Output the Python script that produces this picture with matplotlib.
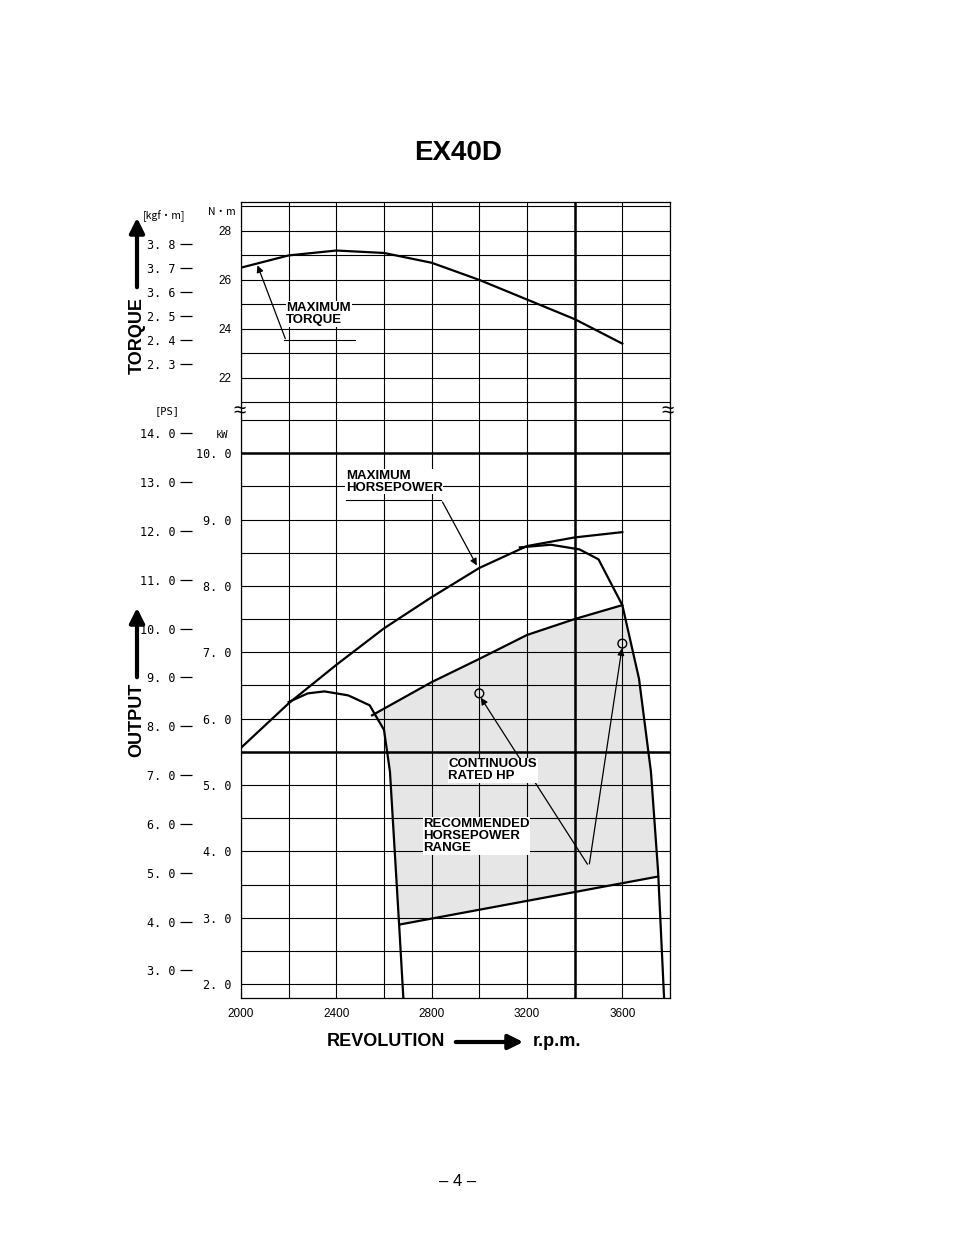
import numpy as np
import matplotlib.pyplot as plt
from matplotlib.patches import Polygon

# ---- data (rpm, N·m, kW) ----
rpm_torque = [2000, 2200, 2400, 2600, 2800, 3000, 3200, 3400, 3600]
max_torque = [26.5, 27.0, 27.2, 27.1, 26.7, 26.0, 25.2, 24.4, 23.4]

rpm_hp = [2000, 2200, 2400, 2600, 2800, 3000, 3200, 3400, 3600]
max_hp = [5.56, 6.23, 6.81, 7.36, 7.83, 8.27, 8.60, 8.73, 8.81]

rpm_left_bell = [2200, 2280, 2350, 2450, 2540, 2600, 2625, 2645, 2665, 2681]
kw_left_bell = [6.25, 6.38, 6.41, 6.35, 6.2, 5.83, 5.2, 4.0, 2.8, 1.8]

rpm_right_bell = [3170, 3300, 3420, 3500, 3600, 3670, 3720, 3750, 3775]
kw_right_bell = [8.58, 8.62, 8.55, 8.4, 7.71, 6.6, 5.2, 3.7, 1.8]

rpm_range_top = [2550, 2800, 3000, 3200, 3400, 3600]
kw_range_top = [6.05, 6.55, 6.9, 7.26, 7.5, 7.71]
rpm_range_right = [3670, 3720, 3750]
kw_range_right = [6.6, 5.2, 3.62]
rpm_range_bottom = [2670, 3750]
kw_range_bottom = [2.9, 3.62]
rpm_range_left = [2645, 2625, 2600]
kw_range_left = [4.0, 5.2, 5.83]

rated_rpm = [3000, 3600]
rated_kw = [6.38, 7.13]

x_ticks = [2000, 2400, 2800, 3200, 3600]
nm_ticks = [22, 24, 26, 28]
kw_ticks = [2.0, 3.0, 4.0, 5.0, 6.0, 7.0, 8.0, 9.0, 10.0]
kgf_ticks = [2.3, 2.4, 2.5, 2.6, 2.7, 2.8]
ps_ticks = [3.0, 4.0, 5.0, 6.0, 7.0, 8.0, 9.0, 10.0, 11.0, 12.0, 13.0, 14.0]

W, H = 954, 1235
fig = plt.figure(figsize=(W / 100, H / 100), dpi=100)
plt.rcParams["font.family"] = "Liberation Sans"
mono = "DejaVu Sans Mono"


def box(x0, y0, x1, y1):
    return [x0 / W, 1 - y1 / H, (x1 - x0) / W, (y1 - y0) / H]


ax_t = fig.add_axes(box(241, 202, 670, 412))
ax_p = fig.add_axes(box(241, 412, 670, 998))

for ax in (ax_t, ax_p):
    ax.set_xlim(2000, 3800)
    ax.set_xticks(np.arange(2000, 3801, 200))
    ax.grid(True, color="black", lw=0.8)
    ax.axvline(3400, color="black", lw=1.8)
    for s in ax.spines.values():
        s.set_linewidth(0.9)
ax_t.spines["bottom"].set_visible(False)
ax_p.spines["top"].set_visible(False)

ax_t.set_ylim(20.61, 29.18)
ax_t.set_yticks(np.arange(21, 30, 1))
ax_t.set_yticklabels([str(v) if v in nm_ticks else "" for v in range(21, 30)],
                     fontsize=8.5)
ax_t.tick_params(length=0, pad=7, labelbottom=False)

ax_p.set_ylim(1.79, 10.62)
ax_p.set_yticks(np.arange(2.0, 10.51, 0.5))
ax_p.set_yticklabels([f"{v:.0f}. {round(v*10)%10}" if v in kw_ticks else ""
                      for v in np.arange(2.0, 10.51, 0.5)], fontsize=8.5,
                     family=mono)
ax_p.tick_params(length=0, pad=7)
ax_p.set_xticks(np.arange(2000, 3801, 200))
ax_p.set_xticklabels([str(v) if v in x_ticks else "" for v in range(2000, 3801, 200)],
                     fontsize=8.5)
ax_p.axhline(10.0, color="black", lw=1.8)
ax_p.axhline(5.5, color="black", lw=1.8)

# secondary unit scales
sec_t = ax_t.secondary_yaxis(-0.114, functions=(lambda v: v / 9.80665, lambda v: v * 9.80665))
sec_t.set_yticks(kgf_ticks)
sec_t.set_yticklabels([f"{v:.0f}. {round(v*10)%10}" for v in kgf_ticks], fontsize=8.5, family=mono)
sec_p = ax_p.secondary_yaxis(-0.114, functions=(lambda v: v / 0.7355, lambda v: v * 0.7355))
sec_p.set_yticks(ps_ticks)
sec_p.set_yticklabels([f"{v:.0f}. {round(v*10)%10}" for v in ps_ticks], fontsize=8.5, family=mono)
for s in (sec_t, sec_p):
    s.spines["left"].set_visible(False)
    s.tick_params(length=9, width=0.9, pad=3)

# curves
ax_t.plot(rpm_torque, max_torque, color="black", lw=1.6)
ax_p.plot(rpm_hp, max_hp, color="black", lw=1.6)
ax_p.plot(rpm_left_bell, kw_left_bell, color="black", lw=1.6)
ax_p.plot(rpm_right_bell, kw_right_bell, color="black", lw=1.6)
ax_p.plot(rpm_range_top, kw_range_top, color="black", lw=1.6)
ax_p.plot(rpm_range_bottom, kw_range_bottom, color="black", lw=1.6)

poly_x = rpm_range_top + rpm_range_right + rpm_range_bottom[::-1] + rpm_range_left
poly_y = kw_range_top + kw_range_right + kw_range_bottom[::-1] + kw_range_left
ax_p.add_patch(Polygon(np.column_stack([poly_x, poly_y]), closed=True,
                       facecolor="#e6e6e6", edgecolor="none", zorder=0.5))
ax_p.scatter(rated_rpm, rated_kw, s=40, facecolor="none", edgecolor="black", lw=1, zorder=5)

# annotations
arrow = dict(arrowstyle="-|>", color="black", lw=0.9, mutation_scale=10)
lbl = dict(fontsize=9.5, fontweight="bold", va="top", ha="left",
           bbox=dict(facecolor="white", edgecolor="none", pad=0.5))
ax_t.annotate("", xy=(2065, 26.7), xytext=(2190, 23.5), arrowprops=arrow)
ax_t.text(2190, 25.1, "MAXIMUM\nTORQUE", linespacing=1.0, **lbl)
ax_t.plot([2180, 2480], [23.55, 23.55], color="black", lw=0.8)
ax_p.annotate("", xy=(2995, 8.27), xytext=(2840, 9.3), arrowprops=arrow)
ax_p.text(2440, 9.75, "MAXIMUM\nHORSEPOWER", linespacing=1.0, **lbl)
ax_p.plot([2440, 2840], [9.3, 9.3], color="black", lw=0.8)
ax_p.annotate("", xy=(3000, 6.35), xytext=(3460, 3.77), arrowprops=arrow)
ax_p.annotate("", xy=(3600, 7.1), xytext=(3460, 3.77), arrowprops=arrow)
ax_p.text(2870, 5.4, "CONTINUOUS\nRATED HP", linespacing=1.0, **lbl)
ax_p.text(2765, 4.5, "RECOMMENDED\nHORSEPOWER\nRANGE", linespacing=1.0, **lbl)

# units and break marks
fig.text(208 / W, 1 - 212 / H, "N・m", fontsize=7.5, family="Noto Sans CJK JP", va="center")
fig.text(143 / W, 1 - 216 / H, "[kgf・m]", fontsize=7.5, family="Noto Sans CJK JP", va="center")
fig.text(155 / W, 1 - 411 / H, "[PS]", fontsize=7.5, family=mono, va="center")
fig.text(216 / W, 1 - 435 / H, "kW", fontsize=7.5, family=mono, va="center")
for xb in (240, 668):
    fig.text(xb / W, 1 - 412 / H, "≈", fontsize=16, ha="center", va="center")

# axis titles with arrows
fig.text(458 / W, 1 - 153 / H, "EX40D", fontsize=20, fontweight="bold", ha="center", va="center")
fig.text(137 / W, 1 - 335 / H, "TORQUE", fontsize=13, fontweight="bold", rotation=90, ha="center", va="center")
fig.text(137 / W, 1 - 720 / H, "OUTPUT", fontsize=13, fontweight="bold", rotation=90, ha="center", va="center")
big = dict(arrowstyle="-|>", color="black", lw=3, mutation_scale=22)
fig.add_artist(plt.Annotation("", xy=(137 / W, 1 - 215 / H), xytext=(137 / W, 1 - 290 / H),
                              xycoords="figure fraction", arrowprops=big))
fig.add_artist(plt.Annotation("", xy=(137 / W, 1 - 605 / H), xytext=(137 / W, 1 - 680 / H),
                              xycoords="figure fraction", arrowprops=big))
fig.add_artist(plt.Annotation("", xy=(526 / W, 1 - 1042 / H), xytext=(453 / W, 1 - 1042 / H),
                              xycoords="figure fraction", arrowprops=big))
fig.text(445 / W, 1 - 1042 / H, "REVOLUTION", fontsize=13, fontweight="bold", ha="right", va="center")
fig.text(533 / W, 1 - 1042 / H, "r.p.m.", fontsize=13, fontweight="bold", ha="left", va="center")
fig.text(458 / W, 1 - 1181 / H, "– 4 –", fontsize=12, ha="center", va="center")

fig.savefig("out.png", dpi=100)
